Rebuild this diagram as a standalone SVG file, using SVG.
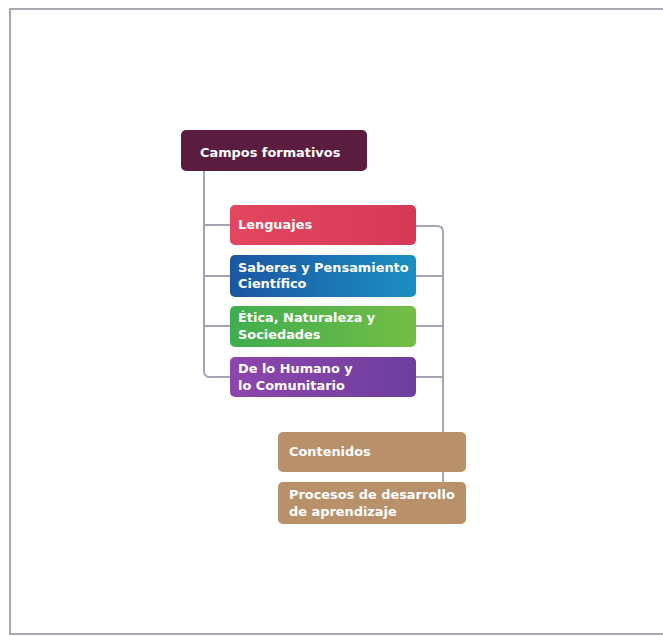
<svg xmlns="http://www.w3.org/2000/svg" width="663" height="636" viewBox="0 0 663 636">
<defs>
<linearGradient id="gRed" x1="0" y1="0" x2="1" y2="0"><stop offset="0" stop-color="#e2475f"/><stop offset="1" stop-color="#d43a58"/></linearGradient>
<linearGradient id="gBlue" x1="0" y1="0" x2="1" y2="0"><stop offset="0" stop-color="#1c56a2"/><stop offset="1" stop-color="#1b8fc2"/></linearGradient>
<linearGradient id="gGreen" x1="0" y1="0" x2="1" y2="0"><stop offset="0" stop-color="#3fae4f"/><stop offset="1" stop-color="#74bd45"/></linearGradient>
<linearGradient id="gPurple" x1="0" y1="0" x2="1" y2="0"><stop offset="0" stop-color="#8e45ad"/><stop offset="1" stop-color="#6c3f9c"/></linearGradient>
</defs>
<style>
.lbl{font-family:"DejaVu Sans","Open Sans",sans-serif;font-weight:bold;font-size:12.9px;fill:#ffffff}
.conn{fill:none;stroke:#a3a6b2;stroke-width:2}
.frame{fill:none;stroke:#8a8c96;stroke-width:1.5}
</style>
<rect x="0" y="0" width="663" height="636" fill="#ffffff"/>
<path class="frame" d="M663 9 L10 9 L10 634 L663 634"/>
<g id="connectors">
<path class="conn" d="M204 171 L204 371 Q204 377 210 377 L230 377"/>
<path class="conn" d="M204 225 L230 225"/>
<path class="conn" d="M204 276 L230 276"/>
<path class="conn" d="M204 326 L230 326"/>
<path class="conn" d="M416 226 L437 226 Q443 226 443 232 L443 482"/>
<path class="conn" d="M416 276 L443 276"/>
<path class="conn" d="M416 326 L443 326"/>
<path class="conn" d="M416 377 L443 377"/>
</g>
<g id="campos">
<rect x="181" y="130" width="186" height="41" rx="5" fill="#5b1d3f"/>
<text class="lbl" x="200" y="157">Campos formativos</text>
</g>
<g id="lenguajes">
<rect x="230" y="205" width="186" height="40" rx="5" fill="url(#gRed)"/>
<text class="lbl" x="238" y="229">Lenguajes</text>
</g>
<g id="saberes">
<rect x="230" y="255" width="186" height="42" rx="5" fill="url(#gBlue)"/>
<text class="lbl" x="238" y="272">Saberes y Pensamiento</text>
<text class="lbl" x="238" y="288">Científico</text>
</g>
<g id="etica">
<rect x="230" y="306" width="186" height="41" rx="5" fill="url(#gGreen)"/>
<text class="lbl" x="238" y="322">Ética, Naturaleza y</text>
<text class="lbl" x="238" y="339">Sociedades</text>
</g>
<g id="humano">
<rect x="230" y="357" width="186" height="40" rx="5" fill="url(#gPurple)"/>
<text class="lbl" x="238" y="373">De lo Humano y</text>
<text class="lbl" x="238" y="390">lo Comunitario</text>
</g>
<g id="contenidos">
<rect x="278" y="432" width="188" height="40" rx="5" fill="#b8916a"/>
<text class="lbl" x="289" y="456">Contenidos</text>
</g>
<g id="procesos">
<rect x="278" y="482" width="188" height="42" rx="5" fill="#b8916a"/>
<text class="lbl" x="289" y="499">Procesos de desarrollo</text>
<text class="lbl" x="289" y="516">de aprendizaje</text>
</g>
</svg>
